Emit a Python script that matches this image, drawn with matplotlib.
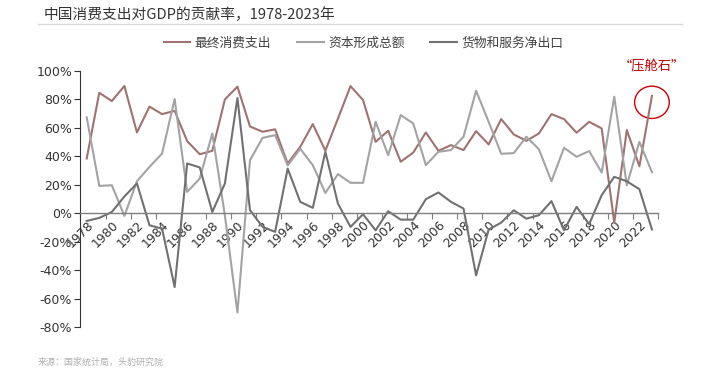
import matplotlib
matplotlib.use('Agg')
import matplotlib.pyplot as plt
import numpy as np
from matplotlib.patches import Ellipse
from matplotlib.lines import Line2D

plt.rcParams['font.family'] = ['Noto Sans CJK SC', 'DejaVu Sans']

years = list(range(1978, 2024))

# 最终消费支出 (%)
consumption = [38.5, 84.7, 78.9, 89.5, 56.8, 75.0, 69.7, 72.0, 50.7, 41.5,
               43.9, 80.0, 89.0, 61.0, 57.3, 59.0, 35.0, 46.7, 62.7, 44.0,
               66.5, 89.4, 79.6, 50.2, 58.0, 36.2, 42.7, 56.8, 43.9, 47.9,
               44.4, 57.7, 48.4, 66.2, 55.4, 50.9, 56.1, 69.7, 66.2, 56.6,
               64.3, 59.6, -6.5, 58.5, 33.0, 82.5]
# 资本形成总额 (%)
capital = [67.4, 19.2, 19.7, -1.9, 22.5, 32.6, 42.0, 80.3, 15.0, 24.4,
           56.1, -1.5, -69.8, 37.3, 53.0, 54.9, 33.6, 45.3, 33.8, 14.3,
           27.5, 21.4, 21.4, 64.3, 40.8, 69.0, 63.1, 33.8, 43.2, 44.4,
           53.8, 86.1, 64.3, 41.8, 42.3, 53.8, 45.0, 22.5, 46.0, 39.7,
           43.7, 28.6, 82.0, 19.7, 50.2, 28.9]
# 货物和服务净出口 (%)
net_export = [-5.4, -3.3, 0.9, 11.8, 20.9, -8.5, -10.8, -51.9, 35.0, 32.2,
              0.9, 20.9, 81.0, 2.1, -9.6, -13.1, 31.4, 8.0, 3.8, 43.2,
              6.8, -9.6, -0.7, -12.0, 1.4, -4.5, -4.5, 9.9, 14.6, 8.0,
              3.3, -43.7, -11.5, -6.6, 2.1, -3.8, -1.4, 8.5, -12.0, 4.5,
              -7.7, 12.7, 25.6, 22.5, 16.9, -11.4]

names = ['最终消费支出', '资本形成总额', '货物和服务净出口']
colors = ['#A07272', '#A3A3A3', '#717171']

fig = plt.figure(figsize=(7.2, 3.76), dpi=100)
ax = fig.add_axes([0.1117, 0.1303, 0.8025, 0.6808])

for vals, name, c in zip([consumption, capital, net_export], names, colors):
    ax.plot(years, vals, color=c, linewidth=1.5, label=name)

ax.set_xlim(1977.5, 2023.5)
ax.set_ylim(-80, 100)

# y axis
ax.set_yticks(range(-80, 101, 20))
ax.set_yticklabels([f'{v}%' for v in range(-80, 101, 20)], fontsize=9,
                   color='#333333', family='DejaVu Sans')
ax.tick_params(axis='y', direction='out', length=4, width=0.8, color='#333333', pad=2)
ax.spines['left'].set_color('#333333')
ax.spines['top'].set_visible(False)
ax.spines['right'].set_visible(False)

# x axis on the zero line
ax.spines['bottom'].set_position(('data', 0))
ax.spines['bottom'].set_color('#7F7F7F')
ax.spines['bottom'].set_linewidth(1.0)
ax.set_xticks(years[::2])
ax.set_xticklabels([str(y) for y in years[::2]], fontsize=9, color='#333333',
                   family='DejaVu Sans', rotation=45, ha='right', va='top',
                   rotation_mode='anchor')
ax.set_xticks(np.arange(1977.5, 2024, 2), minor=True)
ax.tick_params(axis='x', which='major', length=0, pad=4)
ax.tick_params(axis='x', which='minor', direction='out', length=4, width=0.8,
               color='#7F7F7F')

# legend
ax.legend(loc='center', bbox_to_anchor=(0.505, 0.886), bbox_transform=fig.transFigure,
          ncol=3, frameon=False, fontsize=9.2, handlelength=2.1, handletextpad=0.35,
          columnspacing=2.0, labelcolor='#404040')

# title and underline
fig.text(0.06, 0.962, '中国消费支出对GDP的贡献率，1978-2023年', fontsize=10.6,
         color='#333333', va='center', ha='left')
fig.add_artist(Line2D([38 / 720, 682 / 720], [0.936, 0.936], color='#D9D9D9',
                      linewidth=1, transform=fig.transFigure))

# annotation
ax.add_patch(Ellipse((2023, 78), 2.76, 22.7, fill=False, edgecolor='#CC0000',
                     linewidth=1, clip_on=False))
ax.text(2023, 103, '“压舱石”', color='#C00000', fontsize=9.5, ha='center',
        va='center', clip_on=False)

# source
fig.text(38 / 720, 1 - 362 / 376, '来源：国家统计局，头豹研究院', fontsize=6.5,
         color='#B0B0B0', va='center', ha='left')

fig.savefig('out.png', dpi=100)
